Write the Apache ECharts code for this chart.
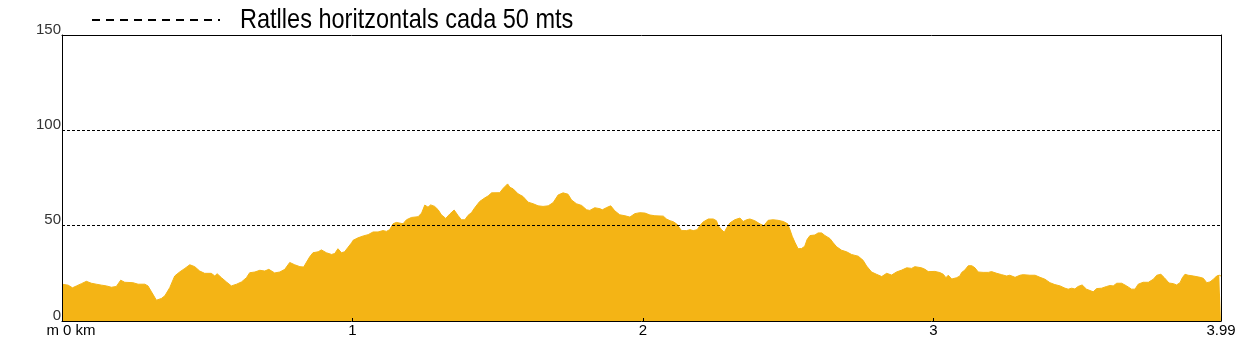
<!DOCTYPE html>
<html>
<head>
<meta charset="utf-8">
<script src="https://cdn.jsdelivr.net/npm/echarts@6/dist/echarts.min.js"></script>
<style>
html,body{margin:0;padding:0;background:#fff;}
#chart{width:1252px;height:338px;}
</style>
</head>
<body>
<div id="chart"></div>
<script>
// distance along the route (km)
const distKm = [0,0.021,0.036,0.050,0.067,0.084,0.101,0.118,0.136,0.153,0.170,0.187,0.202,0.216,0.244,0.262,0.285,0.296,0.308,0.325,0.342,0.354,0.371,0.388,0.405,0.423,0.440,0.457,0.474,0.491,0.514,0.526,0.534,0.549,0.566,0.583,0.601,0.618,0.635,0.646,0.664,0.681,0.698,0.712,0.732,0.750,0.767,0.784,0.801,0.819,0.832,0.842,0.853,0.864,0.882,0.893,0.910,0.928,0.939,0.950,0.962,0.973,0.985,0.997,1.002,1.019,1.037,1.054,1.071,1.088,1.105,1.117,1.128,1.140,1.151,1.174,1.186,1.203,1.226,1.238,1.249,1.260,1.269,1.283,1.295,1.306,1.321,1.335,1.350,1.364,1.375,1.387,1.398,1.410,1.421,1.438,1.456,1.467,1.479,1.507,1.519,1.534,1.542,1.553,1.570,1.587,1.605,1.622,1.639,1.656,1.674,1.691,1.708,1.725,1.742,1.754,1.771,1.789,1.806,1.817,1.834,1.852,1.860,1.875,1.889,1.903,1.920,1.938,1.955,1.972,1.989,2.007,2.024,2.041,2.070,2.081,2.093,2.104,2.116,2.127,2.133,2.150,2.162,2.173,2.187,2.196,2.207,2.225,2.242,2.253,2.259,2.271,2.280,2.288,2.299,2.316,2.334,2.345,2.357,2.368,2.385,2.403,2.416,2.431,2.448,2.465,2.483,2.498,2.506,2.514,2.523,2.534,2.546,2.557,2.565,2.575,2.592,2.603,2.615,2.626,2.644,2.655,2.667,2.684,2.701,2.718,2.730,2.741,2.758,2.770,2.787,2.804,2.822,2.839,2.856,2.873,2.891,2.908,2.925,2.936,2.959,2.971,2.982,3.005,3.022,3.034,3.043,3.051,3.063,3.080,3.091,3.097,3.108,3.120,3.132,3.143,3.154,3.171,3.189,3.200,3.218,3.235,3.252,3.263,3.281,3.298,3.309,3.332,3.350,3.367,3.384,3.401,3.418,3.436,3.453,3.464,3.476,3.487,3.498,3.512,3.527,3.550,3.562,3.579,3.596,3.608,3.619,3.631,3.648,3.665,3.682,3.694,3.705,3.722,3.740,3.757,3.769,3.783,3.795,3.811,3.826,3.837,3.849,3.857,3.866,3.877,3.895,3.918,3.929,3.941,3.952,3.964,3.975,3.984,3.990];
// elevation (m)
const elevM = [19.3,18.8,17.4,18.4,19.6,20.8,19.8,19.3,18.8,18.4,17.7,18.1,21.4,20.3,20.1,19.3,19.3,18.4,15.3,10.9,11.8,13.2,17.5,23.6,25.7,27.6,29.5,28.5,26.2,25.0,25.0,23.6,24.8,22.7,20.5,18.4,19.3,20.5,22.7,25.3,25.7,26.6,26.2,27.1,25.2,25.7,27.1,30.7,29.5,28.5,28.3,30.9,33.7,35.8,36.3,37.3,35.8,34.9,35.4,37.9,35.8,36.3,38.7,41.0,42.3,43.6,44.6,45.3,46.7,46.7,47.4,47.0,47.9,51.0,51.7,51.0,53.1,54.3,54.7,56.6,60.8,59.7,60.9,60.1,58.3,55.7,53.8,56.1,58.2,55.2,53.1,53.1,55.4,56.9,59.4,62.7,64.6,65.6,67.2,67.3,69.6,71.9,70.1,69.3,66.7,65.3,62.3,61.5,60.4,60.1,60.4,62.1,66.1,67.2,66.5,63.5,61.5,60.6,58.3,58.0,59.4,58.9,58.3,59.5,60.4,57.8,55.7,55.2,54.5,56.3,56.8,56.6,55.6,55.2,55.0,53.5,52.6,52.1,50.9,48.6,47.4,47.4,47.9,47.4,47.9,50.0,51.9,53.5,53.5,52.6,50.0,47.9,46.5,48.8,51.4,53.1,54.0,52.2,53.1,53.5,52.6,50.9,50.0,52.8,53.1,52.8,52.2,51.0,47.9,44.4,41.3,37.9,38.0,39.2,42.7,44.8,45.1,46.2,46.2,44.9,43.2,41.0,38.9,37.1,36.3,34.9,34.4,34.0,31.8,28.8,25.7,24.5,23.3,25.0,24.1,25.7,26.7,27.9,27.6,28.5,27.9,27.1,25.9,26.0,25.4,24.5,22.7,24.0,22.0,22.7,23.6,25.4,26.7,29.0,29.0,27.9,25.7,25.5,25.5,25.9,25.0,24.3,23.6,24.0,22.9,24.0,24.3,24.0,24.0,22.9,21.9,20.1,19.1,18.4,17.2,16.7,17.2,16.8,18.1,18.9,16.7,15.3,17.0,17.2,18.1,18.6,18.4,19.8,19.8,18.4,16.7,16.7,19.3,20.3,20.3,21.9,24.0,24.5,22.7,19.9,19.6,18.9,20.1,22.7,24.5,24.0,23.6,22.9,22.4,20.1,20.5,21.9,23.6,24.0,23.6];
const gridLineValues = [50, 100];
const xLabelValues = [0, 1, 2, 3, 3.99];
const xTickValues = [1, 2, 3];
const yTickValues = [0, 50, 100, 150];
const legendText = 'Ratlles horitzontals cada 50 mts';

const chart = echarts.init(document.getElementById('chart'), null, {renderer: 'canvas'});
const profile = distKm.map((d, i) => [d, elevM[i]]);
const fill = '#F4B415';

chart.setOption({
  animation: false,
  backgroundColor: '#ffffff',
  grid: {left: 62, right: 31, top: 35, bottom: 16, show: false},
  graphic: [
    {type: 'line', shape: {x1: 92, y1: 20, x2: 220, y2: 20},
     style: {stroke: '#000', lineWidth: 2, lineDash: [8, 6]}},
    {type: 'text', x: 240, y: 6, scaleX: 0.84, scaleY: 1,
     style: {text: legendText, x: 0, y: 0, verticalAlign: 'top', fill: '#000', fontSize: 28,
             fontFamily: "'Liberation Sans', Arial, sans-serif"}}
  ],
  xAxis: [{
    type: 'value', min: 0, max: 3.99, position: 'bottom', z: 5,
    axisLine: {show: true, lineStyle: {color: '#000', width: 1}},
    axisTick: {show: true, inside: true, length: 3, customValues: xTickValues, lineStyle: {color: '#000'}},
    axisLabel: {
      show: true, customValues: xLabelValues, margin: 2, color: '#000', fontSize: 15,
      fontFamily: "'Liberation Sans', Arial, sans-serif",
      formatter: v => v === 0 ? '{z|m 0 km}' : String(v),
      rich: {z: {fontSize: 15, color: '#000', fontFamily: "'Liberation Sans', Arial, sans-serif", padding: [0, 0, 0, 18]}}
    },
    splitLine: {show: false}
  }, {
    type: 'value', min: 0, max: 3.99, position: 'top', z: 5,
    axisLine: {show: true, onZero: false, lineStyle: {color: '#000', width: 1}},
    axisTick: {show: false}, axisLabel: {show: false}, splitLine: {show: false}
  }],
  yAxis: [{
    type: 'value', min: 0, max: 150, interval: 50, position: 'left', z: 5,
    axisLine: {show: true, onZero: false, lineStyle: {color: '#000', width: 1}},
    axisTick: {show: false},
    axisLabel: {show: true, customValues: yTickValues, margin: 1, color: '#333', fontSize: 15,
      fontFamily: "'Liberation Sans', Arial, sans-serif", verticalAlign: 'bottom', lineHeight: 11},
    splitLine: {show: false}
  }, {
    type: 'value', min: 0, max: 150, position: 'right', z: 5,
    axisLine: {show: true, onZero: false, lineStyle: {color: '#000', width: 1}},
    axisTick: {show: false}, axisLabel: {show: false}, splitLine: {show: false}
  }],
  series: [{
    type: 'line', name: 'Perfil', data: profile, symbol: 'none', smooth: false,
    lineStyle: {width: 1, color: fill}, areaStyle: {color: fill, opacity: 1},
    itemStyle: {color: fill}, silent: true,
    markLine: {
      silent: true, symbol: 'none', animation: false,
      label: {show: false},
      lineStyle: {color: '#000', type: [3, 2], width: 1},
      data: gridLineValues.map(v => ({yAxis: v}))
    }
  }]
});
</script>
</body>
</html>
